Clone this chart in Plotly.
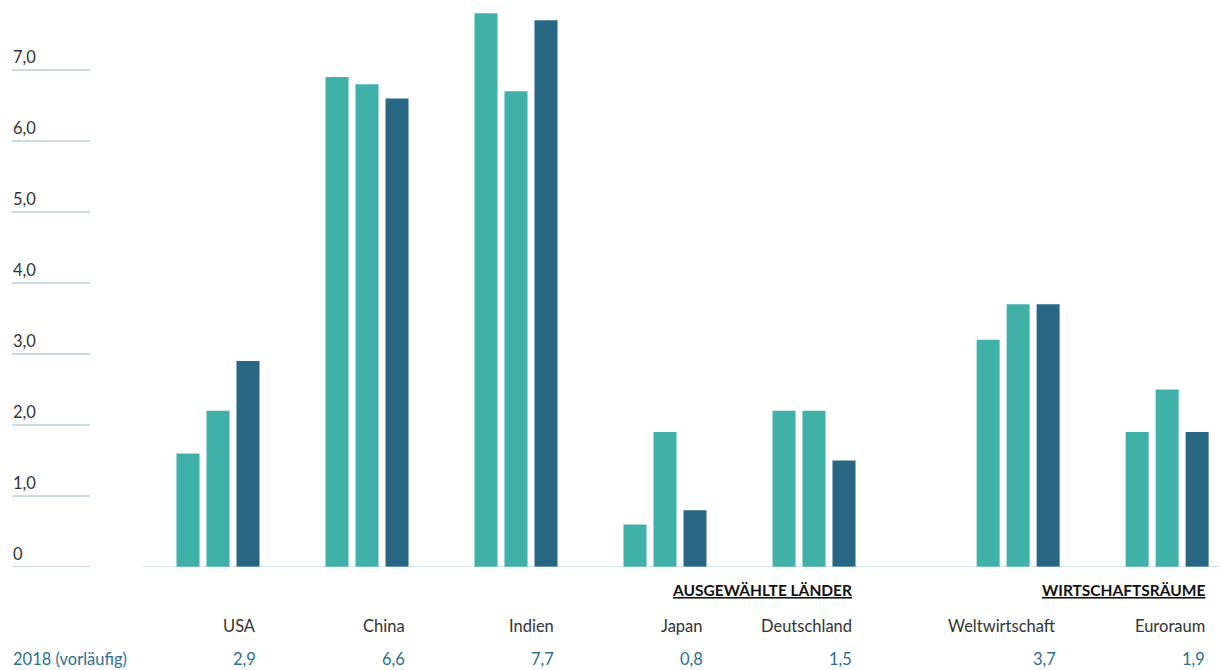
import plotly.graph_objects as go

# Wachstumsraten des BIP in Prozent, drei Werte je Land / Wirtschaftsraum
categories = ["USA", "China", "Indien", "Japan", "Deutschland", "Weltwirtschaft", "Euroraum"]
region_group = [0, 0, 0, 0, 0, 1, 1]          # 0 = Länder, 1 = Wirtschaftsräume
series_a = [1.6, 6.9, 7.8, 0.6, 2.2, 3.2, 1.9]
series_b = [2.2, 6.8, 6.7, 1.9, 2.2, 3.7, 2.5]
series_2018 = [2.9, 6.6, 7.7, 0.8, 1.5, 3.7, 1.9]
value_labels = ["2,9", "6,6", "7,7", "0,8", "1,5", "3,7", "1,9"]
y_ticks = [0, 1, 2, 3, 4, 5, 6, 7]
y_tick_labels = ["0", "1,0", "2,0", "3,0", "4,0", "5,0", "6,0", "7,0"]
group_headers = ["AUSGEWÄHLTE LÄNDER", "WIRTSCHAFTSRÄUME"]
row_label = "2018 (vorläufig)"

W, H = 1220, 670
PLOT_BOTTOM = 567            # pixel row of the zero line
GROUP_STEP = 149             # pixels between neighbouring groups
FIRST_CENTER = 218
REGION_GAP = 0.37            # extra space before the second block

TEAL = "#3fb1a8"
DARK = "#276783"
TEXT = "#333333"
BLUE_TEXT = "#2d6f8f"
TICK_LINE = "#9db6c1"
AXIS_LINE = "#a9c8d6"
FONT = "Lato, Open Sans, sans-serif"
FS = 16.5

xpos = [i + REGION_GAP * g for i, g in enumerate(region_group)]
x_min = -FIRST_CENTER / GROUP_STEP
x_max = (W - FIRST_CENTER) / GROUP_STEP
y_max = PLOT_BOTTOM / 71.0   # 71 px per unit

fig = go.Figure()
for vals, col in [(series_a, TEAL), (series_b, TEAL), (series_2018, DARK)]:
    fig.add_trace(go.Bar(x=xpos, y=vals, marker=dict(color=col, line=dict(width=0)),
                         hoverinfo="y", showlegend=False))

annotations = []
shapes = []

def px_to_paper_y(p):
    return (PLOT_BOTTOM - p) / PLOT_BOTTOM

# y-axis labels with short rules underneath
for v, lab in zip(y_ticks, y_tick_labels):
    annotations.append(dict(x=11 / W, xref="paper", y=v, yref="y", text=lab,
                            showarrow=False, xanchor="left", yanchor="middle", yshift=13,
                            font=dict(family=FONT, size=FS, color=TEXT)))
    shapes.append(dict(type="line", xref="paper", yref="y", x0=12 / W, x1=90 / W,
                       y0=v, y1=v, line=dict(color=TICK_LINE, width=1)))

# baseline under the bars
shapes.append(dict(type="line", xref="paper", yref="y", x0=143 / W, x1=1.0,
                   y0=0, y1=0, line=dict(color=AXIS_LINE, width=1.2)))

right_edge = 40 / GROUP_STEP   # offset from group centre to right edge of the third bar
for x, cat, lab in zip(xpos, categories, value_labels):
    annotations.append(dict(x=x + right_edge, xref="x", y=px_to_paper_y(626), yref="paper",
                            text=cat, showarrow=False, xanchor="right", yanchor="middle",
                            font=dict(family=FONT, size=FS, color=TEXT)))
    annotations.append(dict(x=x + right_edge, xref="x", y=px_to_paper_y(659), yref="paper",
                            text=lab, showarrow=False, xanchor="right", yanchor="middle",
                            font=dict(family=FONT, size=FS, color=BLUE_TEXT)))

# block headers, right-aligned to the last group of each block
for g, header in enumerate(group_headers):
    last = max(i for i, rg in enumerate(region_group) if rg == g)
    annotations.append(dict(x=xpos[last] + right_edge, xref="x", y=px_to_paper_y(590),
                            yref="paper", text="<b>" + header + "</b>", showarrow=False,
                            xanchor="right", yanchor="middle",
                            font=dict(family=FONT, size=15.5, color="#111111",
                                      lineposition="under")))

annotations.append(dict(x=11 / W, xref="paper", y=px_to_paper_y(659), yref="paper",
                        text=row_label, showarrow=False, xanchor="left", yanchor="middle",
                        font=dict(family=FONT, size=FS, color=BLUE_TEXT)))

fig.update_layout(
    width=W, height=H,
    margin=dict(l=0, r=0, t=0, b=H - PLOT_BOTTOM, pad=0),
    paper_bgcolor="white", plot_bgcolor="white",
    barmode="group", bargap=0.396, bargroupgap=0.233,
    xaxis=dict(range=[x_min, x_max], visible=False, fixedrange=True),
    yaxis=dict(range=[0, y_max], visible=False, fixedrange=True),
    annotations=annotations, shapes=shapes,
)

fig.write_html("out.html", config={"displayModeBar": False})
